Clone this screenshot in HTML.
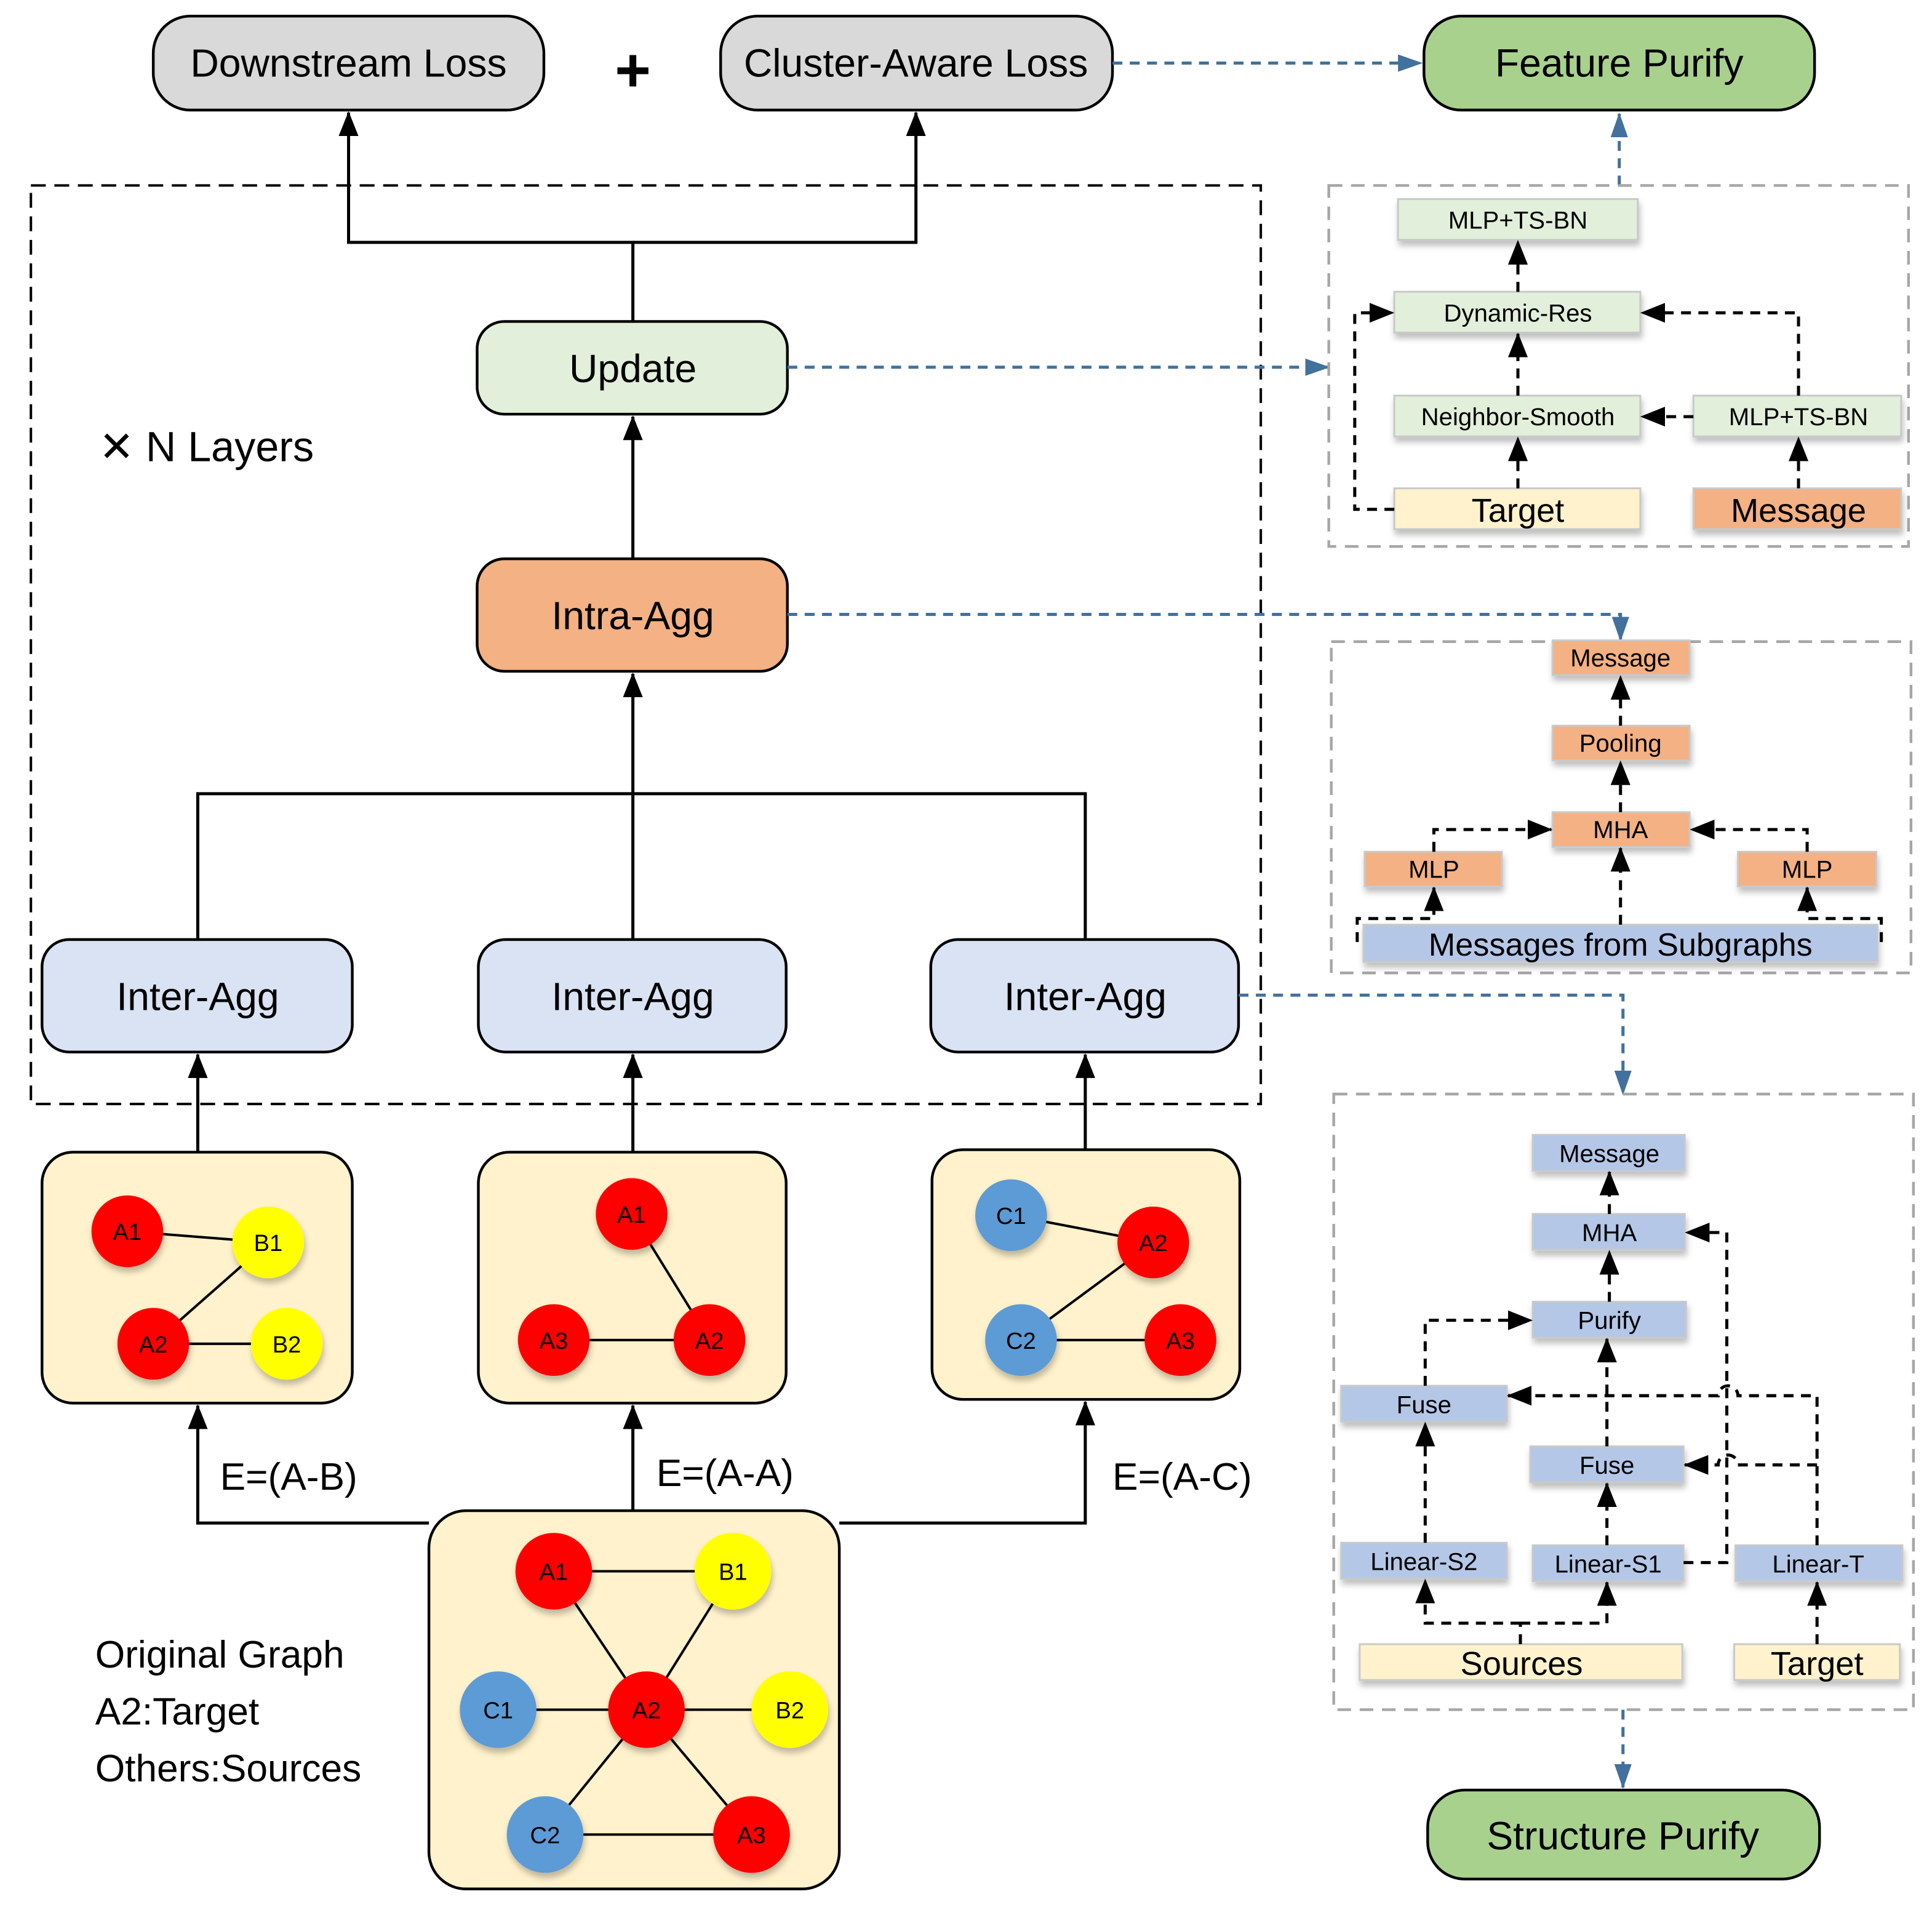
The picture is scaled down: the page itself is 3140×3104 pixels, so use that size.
<!DOCTYPE html>
<html><head><meta charset="utf-8"><style>html,body{margin:0;padding:0;background:#fff}svg{display:block}</style></head>
<body>
<svg width="3140" height="3104" viewBox="0 0 1563 1545" xmlns="http://www.w3.org/2000/svg" font-family="'Liberation Sans', sans-serif">
<defs>
<marker id="ab" markerUnits="userSpaceOnUse" markerWidth="20" markerHeight="20" viewBox="0 0 20 20" refX="19" refY="10" orient="auto"><path d="M0,2 L20,10 L0,18 z" fill="#000"/></marker>
<marker id="abl" markerUnits="userSpaceOnUse" markerWidth="20" markerHeight="20" viewBox="0 0 20 20" refX="19" refY="10" orient="auto"><path d="M0,3 L20,10 L0,17 z" fill="#41719c"/></marker>
<filter id="sh" x="-10%" y="-10%" width="130%" height="160%"><feDropShadow dx="1" dy="4" stdDeviation="2.5" flood-color="#000" flood-opacity="0.25"/></filter>
</defs>

<g stroke="#000" stroke-width="2.2">
<rect x="124" y="13" width="316" height="76" rx="30" fill="#d9d9d9"/>
<rect x="583" y="13" width="317" height="76" rx="30" fill="#d9d9d9"/>
<rect x="1152" y="13" width="316" height="76" rx="30" fill="#a9d18e"/>
<rect x="1155" y="1448" width="317" height="72" rx="30" fill="#a9d18e"/>
</g>
<g font-size="32" text-anchor="middle" fill="#000">
<text x="282" y="62">Downstream Loss</text>
<text x="741" y="62">Cluster-Aware Loss</text>
<text x="1310" y="62">Feature Purify</text>
<text x="1313" y="1496">Structure Purify</text>
</g>
<text x="512" y="74" font-size="50" text-anchor="middle" font-weight="bold">+</text>

<rect x="25" y="150" width="995" height="743" fill="none" stroke="#000" stroke-width="2" stroke-dasharray="12,7"/>

<g stroke="#000" stroke-width="2.5" fill="none">
<path d="M512,260 V196 H282 V91" marker-end="url(#ab)"/>
<path d="M512,196 H741 V91" marker-end="url(#ab)"/>
<path d="M512,452 V337" marker-end="url(#ab)"/>
<path d="M160,760 V642 H878 V760"/>
<path d="M512,760 V545" marker-end="url(#ab)"/>
<path d="M160,932 V853" marker-end="url(#ab)"/>
<path d="M512,932 V853" marker-end="url(#ab)"/>
<path d="M878,930 V853" marker-end="url(#ab)"/>
<path d="M347,1232 H160 V1137" marker-end="url(#ab)"/>
<path d="M512,1222 V1137" marker-end="url(#ab)"/>
<path d="M679,1232 H878 V1134" marker-end="url(#ab)"/>
</g>

<g stroke="#000" stroke-width="2.2">
<rect x="386" y="260" width="251" height="75" rx="22" fill="#e2efda"/>
<rect x="386" y="452" width="251" height="91" rx="22" fill="#f4b183"/>
<rect x="34" y="760" width="251" height="91" rx="22" fill="#dae3f3"/>
<rect x="387" y="760" width="249" height="91" rx="22" fill="#dae3f3"/>
<rect x="753" y="760" width="249" height="91" rx="22" fill="#dae3f3"/>
<rect x="34" y="932" width="251" height="203" rx="25" fill="#fff2cc"/>
<rect x="387" y="932" width="249" height="203" rx="25" fill="#fff2cc"/>
<rect x="754" y="930" width="249" height="202" rx="25" fill="#fff2cc"/>
<rect x="347" y="1222" width="332" height="306" rx="30" fill="#fff2cc"/>
</g>
<g font-size="32" text-anchor="middle">
<text x="512" y="309">Update</text>
<text x="512" y="509">Intra-Agg</text>
<text x="160" y="817">Inter-Agg</text>
<text x="512" y="817">Inter-Agg</text>
<text x="878" y="817">Inter-Agg</text>
</g>
<text x="80" y="373" font-size="34">✕ N Layers</text>
<g font-size="31">
<text x="178" y="1205">E=(A-B)</text>
<text x="531" y="1202">E=(A-A)</text>
<text x="900" y="1205">E=(A-C)</text>
<text x="77" y="1349">Original Graph</text>
<text x="77" y="1395">A2:Target</text>
<text x="77" y="1441">Others:Sources</text>
</g>

<g stroke="#000" stroke-width="2" fill="none">
<path d="M103,996 L217,1005 L124,1087 L232,1087"/>
<path d="M511,982 L574,1084 L448,1084"/>
<path d="M818,983 L933,1005 L826,1084 L955,1084"/>
<path d="M448,1271 L593,1271 M448,1271 L523,1383 M593,1271 L523,1383 M403,1383 L639,1383 M523,1383 L441,1484 M523,1383 L608,1484 M441,1484 L608,1484"/>
</g>
<g font-size="19" text-anchor="middle">
<g filter="url(#sh)">
<circle cx="103" cy="996" r="29" fill="#ff0000"/><circle cx="217" cy="1005" r="29" fill="#ffff00"/>
<circle cx="124" cy="1087" r="29" fill="#ff0000"/><circle cx="232" cy="1087" r="29" fill="#ffff00"/>
<circle cx="511" cy="982" r="29" fill="#ff0000"/><circle cx="448" cy="1084" r="29" fill="#ff0000"/><circle cx="574" cy="1084" r="29" fill="#ff0000"/>
<circle cx="818" cy="983" r="29" fill="#5b9bd5"/><circle cx="933" cy="1005" r="29" fill="#ff0000"/>
<circle cx="826" cy="1084" r="29" fill="#5b9bd5"/><circle cx="955" cy="1084" r="29" fill="#ff0000"/>
<circle cx="448" cy="1271" r="31" fill="#ff0000"/><circle cx="593" cy="1271" r="31" fill="#ffff00"/>
<circle cx="403" cy="1383" r="31" fill="#5b9bd5"/><circle cx="523" cy="1383" r="31" fill="#ff0000"/><circle cx="639" cy="1383" r="31" fill="#ffff00"/>
<circle cx="441" cy="1484" r="31" fill="#5b9bd5"/><circle cx="608" cy="1484" r="31" fill="#ff0000"/>
</g>
<text x="103" y="1003">A1</text><text x="217" y="1012">B1</text><text x="124" y="1094">A2</text><text x="232" y="1094">B2</text>
<text x="511" y="989">A1</text><text x="448" y="1091">A3</text><text x="574" y="1091">A2</text>
<text x="818" y="990">C1</text><text x="933" y="1012">A2</text><text x="826" y="1091">C2</text><text x="955" y="1091">A3</text>
<text x="448" y="1278">A1</text><text x="593" y="1278">B1</text><text x="403" y="1390">C1</text><text x="523" y="1390">A2</text><text x="639" y="1390">B2</text><text x="441" y="1491">C2</text><text x="608" y="1491">A3</text>
</g>

<g stroke="#41719c" stroke-width="2.5" fill="none" stroke-dasharray="8,6">
<path d="M900,51 H1150" marker-end="url(#abl)"/>
<path d="M1310,150 V92" marker-end="url(#abl)"/>
<path d="M637,297 H1075" marker-end="url(#abl)"/>
<path d="M637,497 H1311 V518" marker-end="url(#abl)"/>
<path d="M1002,805 H1313 V885" marker-end="url(#abl)"/>
<path d="M1313,1383 V1446" marker-end="url(#abl)"/>
</g>

<g fill="none" stroke="#a6a6a6" stroke-width="2.2" stroke-dasharray="11,7">
<rect x="1075" y="150" width="469" height="292"/>
<rect x="1077" y="519" width="469" height="268"/>
<rect x="1079" y="885" width="469" height="498"/>
</g>

<g stroke="#c9c9c9" stroke-width="1.5" filter="url(#sh)">
<rect x="1131" y="161" width="194" height="33" fill="#e2efda"/>
<rect x="1128" y="236" width="199" height="33" fill="#e2efda"/>
<rect x="1128" y="320" width="199" height="33" fill="#e2efda"/>
<rect x="1370" y="320" width="168" height="33" fill="#e2efda"/>
<rect x="1128" y="395" width="199" height="33" fill="#fff2cc"/>
<rect x="1370" y="395" width="168" height="33" fill="#f4b183"/>
</g>
<g font-size="20" text-anchor="middle">
<text x="1228" y="185">MLP+TS-BN</text>
<text x="1228" y="260">Dynamic-Res</text>
<text x="1228" y="344">Neighbor-Smooth</text>
<text x="1455" y="344">MLP+TS-BN</text>
</g>
<g font-size="27" text-anchor="middle"><text x="1228" y="422">Target</text><text x="1455" y="422">Message</text></g>
<g stroke="#000" stroke-width="2.5" fill="none" stroke-dasharray="8,6">
<path d="M1228,395 V354" marker-end="url(#ab)"/>
<path d="M1228,320 V270" marker-end="url(#ab)"/>
<path d="M1228,236 V195" marker-end="url(#ab)"/>
<path d="M1128,412 H1096 V253 H1127" marker-end="url(#ab)"/>
<path d="M1455,395 V354" marker-end="url(#ab)"/>
<path d="M1370,337 H1328" marker-end="url(#ab)"/>
<path d="M1455,320 V253 H1328" marker-end="url(#ab)"/>
</g>

<g stroke="#c9c9c9" stroke-width="1.5" filter="url(#sh)">
<rect x="1256" y="518" width="111" height="28" fill="#f4b183"/>
<rect x="1256" y="587" width="111" height="28" fill="#f4b183"/>
<rect x="1256" y="657" width="111" height="28" fill="#f4b183"/>
<rect x="1104" y="689" width="111" height="28" fill="#f4b183"/>
<rect x="1406" y="689" width="112" height="28" fill="#f4b183"/>
<rect x="1103" y="748" width="416" height="30" fill="#b4c7e7"/>
</g>
<g font-size="20" text-anchor="middle">
<text x="1311" y="539">Message</text><text x="1311" y="608">Pooling</text><text x="1311" y="678">MHA</text>
<text x="1160" y="710">MLP</text><text x="1462" y="710">MLP</text>
</g>
<text x="1311" y="773" font-size="26" text-anchor="middle">Messages from Subgraphs</text>
<g stroke="#000" stroke-width="2.5" fill="none" stroke-dasharray="8,6">
<path d="M1311,587 V547" marker-end="url(#ab)"/>
<path d="M1311,657 V616" marker-end="url(#ab)"/>
<path d="M1311,748 V686" marker-end="url(#ab)"/>
<path d="M1098,762 V743 H1160 V718" marker-end="url(#ab)"/>
<path d="M1522,762 V743 H1462 V718" marker-end="url(#ab)"/>
<path d="M1160,689 V671 H1255" marker-end="url(#ab)"/>
<path d="M1462,689 V671 H1368" marker-end="url(#ab)"/>
</g>

<g stroke="#c9c9c9" stroke-width="1.5" filter="url(#sh)">
<rect x="1240" y="918" width="123" height="29" fill="#b4c7e7"/>
<rect x="1240" y="982" width="123" height="29" fill="#b4c7e7"/>
<rect x="1240" y="1053" width="124" height="29" fill="#b4c7e7"/>
<rect x="1085" y="1121" width="134" height="29" fill="#b4c7e7"/>
<rect x="1238" y="1170" width="124" height="29" fill="#b4c7e7"/>
<rect x="1085" y="1248" width="134" height="29" fill="#b4c7e7"/>
<rect x="1240" y="1250" width="122" height="29" fill="#b4c7e7"/>
<rect x="1404" y="1250" width="135" height="29" fill="#b4c7e7"/>
<rect x="1100" y="1330" width="261" height="29" fill="#fff2cc"/>
<rect x="1403" y="1330" width="134" height="29" fill="#fff2cc"/>
</g>
<g font-size="20" text-anchor="middle">
<text x="1302" y="940">Message</text><text x="1302" y="1004">MHA</text><text x="1302" y="1075">Purify</text>
<text x="1152" y="1143">Fuse</text><text x="1300" y="1192">Fuse</text>
<text x="1152" y="1270">Linear-S2</text><text x="1301" y="1272">Linear-S1</text><text x="1471" y="1272">Linear-T</text>
</g>
<g font-size="27" text-anchor="middle"><text x="1231" y="1355">Sources</text><text x="1470" y="1355">Target</text></g>
<g stroke="#000" stroke-width="2.5" fill="none" stroke-dasharray="8,6">
<path d="M1230,1330 V1313"/>
<path d="M1230,1313 H1153 V1278" marker-end="url(#ab)"/>
<path d="M1230,1313 H1300 V1280" marker-end="url(#ab)"/>
<path d="M1470,1330 V1280" marker-end="url(#ab)"/>
<path d="M1153,1248 V1151" marker-end="url(#ab)"/>
<path d="M1300,1250 V1200" marker-end="url(#ab)"/>
<path d="M1300,1170 V1083" marker-end="url(#ab)"/>
<path d="M1153,1121 V1068 H1239" marker-end="url(#ab)"/>
<path d="M1302,1053 V1012" marker-end="url(#ab)"/>
<path d="M1302,982 V948" marker-end="url(#ab)"/>
<path d="M1362,1264 H1397 V997 H1364" marker-end="url(#ab)"/>
<path d="M1470,1250 V1129 H1406 A7,7 0 0 0 1390,1129 H1220" marker-end="url(#ab)"/>
<path d="M1470,1185 H1406 A7,7 0 0 0 1390,1185 H1363" marker-end="url(#ab)"/>
</g>
</svg>
</body></html>
